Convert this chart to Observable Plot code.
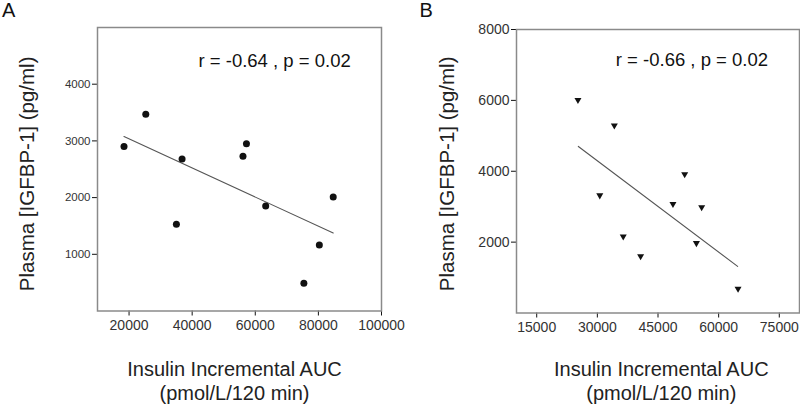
<!DOCTYPE html>
<html>
<head>
<meta charset="utf-8">
<script src="https://cdn.jsdelivr.net/npm/d3@7"></script>
<script src="https://cdn.jsdelivr.net/npm/@observablehq/plot@0.6"></script>
<style>
  html, body { margin: 0; padding: 0; background: #fff; }
  #wrap { display: flex; width: 800px; height: 404px; }
  #wrap svg { overflow: visible; }
</style>
</head>
<body>
<div id="wrap"></div>
<script>
// ---------- Panel A data ----------
const insulinA = [18400, 25300, 36800, 35000, 56100, 57200, 63300, 84700, 80300, 75400];
const igfbpA   = [2900, 3470, 2680, 1530, 2730, 2950, 1850, 2010, 1165, 490];
const fitInsulinA = [18400, 84700];
const fitIgfbpA   = [3076, 1375];
const xTicksA = [20000, 40000, 60000, 80000, 100000];
const yTicksA = [1000, 2000, 3000, 4000];
const statsA = "r = -0.64 , p = 0.02";

// ---------- Panel B data ----------
const insulinB = [25200, 34200, 30600, 36400, 40700, 48700, 51600, 55800, 54500, 64800];
const igfbpB   = [6010, 5290, 3320, 2160, 1600, 3075, 3915, 2985, 1972, 684];
const fitInsulinB = [25300, 64700];
const fitIgfbpB   = [4700, 1315];
const xTicksB = [15000, 30000, 45000, 60000, 75000];
const yTicksB = [2000, 4000, 6000, 8000];
const statsB = "r = -0.66 , p = 0.02";

// ---------- shared text ----------
const panelLetters = ["A", "B"];
const yTitle = "Plasma [IGFBP-1] (pg/ml)";
const xTitle = "Insulin Incremental AUC\n(pmol/L/120 min)";

const FONT = "'Liberation Sans', Arial, Helvetica, sans-serif";
const fmt = d => String(d);

const ptsA = insulinA.map((x, i) => ({x, y: igfbpA[i]}));
const fitA = fitInsulinA.map((x, i) => ({x, y: fitIgfbpA[i]}));
const ptsB = insulinB.map((x, i) => ({x, y: igfbpB[i]}));
const fitB = fitInsulinB.map((x, i) => ({x, y: fitIgfbpB[i]}));

function panel(cfg) {
  return Plot.plot({
    width: 400,
    height: 404,
    marginLeft: cfg.ml,
    marginRight: cfg.mr,
    marginTop: cfg.mt,
    marginBottom: cfg.mb,
    style: {fontFamily: FONT, background: "transparent", overflow: "visible", color: "#222"},
    x: {domain: cfg.xDomain, axis: null},
    y: {domain: cfg.yDomain, axis: null},
    marks: [
      Plot.axisX({ticks: cfg.xTicks, tickFormat: fmt, tickSize: 5, tickPadding: 4, fontSize: cfg.xFont, color: "#333", stroke: "#111", label: null}),
      Plot.axisY({ticks: cfg.yTicks, tickFormat: fmt, tickSize: 5, tickPadding: 2, fontSize: cfg.yFont, color: "#333", stroke: "#111", label: null}),
      Plot.frame({stroke: "#8a8a8a", strokeWidth: 1.5}),
      Plot.line(cfg.fit, {x: "x", y: "y", stroke: "#555", strokeWidth: 1.1}),
      Plot.dot(cfg.pts, {x: "x", y: "y", fill: "#111", stroke: "none", r: cfg.r, symbol: cfg.symbol, rotate: cfg.rotate}),
      Plot.text([cfg.stats], {text: d => d, frameAnchor: "top-left", textAnchor: "start", lineAnchor: "middle", dx: cfg.statsDx, dy: cfg.statsDy, fontSize: 18.5, fill: "#111"}),
      Plot.text([cfg.letter], {text: d => d, frameAnchor: "top-left", textAnchor: "start", lineAnchor: "middle", dx: cfg.letterDx, dy: cfg.letterDy, fontSize: 20, fill: "#111"}),
      Plot.text([yTitle], {text: d => d, frameAnchor: "left", textAnchor: "middle", lineAnchor: "middle", rotate: -90, dx: cfg.yTitleDx, dy: cfg.yTitleDy, fontSize: 20.5, fill: "#222"}),
      Plot.text([xTitle], {text: d => d, frameAnchor: "bottom", textAnchor: "middle", lineAnchor: "top", lineHeight: 1.2, dx: cfg.xTitleDx, dy: cfg.xTitleDy, fontSize: 20, fill: "#222"})
    ]
  });
}

const wrap = document.getElementById("wrap");

wrap.appendChild(panel({
  ml: 97, mr: 19, mt: 27, mb: 93.5,
  xDomain: [10000, 100000], yDomain: [0, 5000],
  xTicks: xTicksA, yTicks: yTicksA, xFont: 14, yFont: 11.5,
  pts: ptsA, fit: fitA, r: 3.5, symbol: "circle", rotate: 0,
  stats: statsA, statsDx: 101, statsDy: 33.8,
  letter: panelLetters[0], letterDx: -95.5, letterDy: -16.7,
  yTitleDx: -70.5, yTitleDy: 4.6,
  xTitleDx: -5, xTitleDy: 47.5
}));

wrap.appendChild(panel({
  ml: 116, mr: 1, mt: 29, mb: 91.5,
  xDomain: [10000, 80000], yDomain: [0, 8000],
  xTicks: xTicksB, yTicks: yTicksB, xFont: 14, yFont: 14,
  pts: ptsB, fit: fitB, r: 2.6, symbol: "triangle", rotate: 180,
  stats: statsB, statsDx: 99.3, statsDy: 30.1,
  letter: panelLetters[1], letterDx: -97, letterDy: -18.7,
  yTitleDx: -69.3, yTitleDy: 2.6,
  xTitleDx: 3.3, xTitleDy: 45.5
}));
</script>
</body>
</html>
